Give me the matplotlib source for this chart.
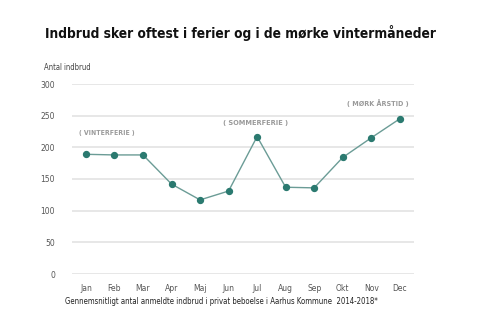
import matplotlib
matplotlib.use("Agg")
import matplotlib.pyplot as plt
import numpy as np

MONTHS = ["Jan", "Feb", "Mar", "Apr", "Maj", "Jun", "Jul", "Aug", "Sep", "Okt", "Nov", "Dec"]
BURGLARIES = [189, 188, 188, 142, 117, 131, 217, 137, 136, 184, 215, 245]
Y_TICKS = [0, 50, 100, 150, 200, 250, 300]
NOTES = ["( VINTERFERIE )", "( SOMMERFERIE )", "( MØRK ÅRSTID )"]
NOTE_POS = [(0.74, 222), (5.96, 238), (10.22, 270)]
NOTE_WIDTH = [56, 66, 62]

TITLE = "Indbrud sker oftest i ferier og i de mørke vintermåneder"
CAPTION = "Gennemsnitligt antal anmeldte indbrud i privat beboelse i Aarhus Kommune  2014-2018*"


def fit_width(fig, txt, width_px, size):
    # scale the font so the text spans the width seen in the reference
    r = fig.canvas.get_renderer()
    w = txt.get_window_extent(r).width
    txt.set_fontsize(size * width_px / w)


fig = plt.figure(figsize=(4.88, 3.26), dpi=100)
ax = fig.add_axes([71.7 / 488, 1 - 274 / 326, (414 - 71.7) / 488, (274 - 84) / 326])

x = np.arange(len(MONTHS))
ax.plot(x, BURGLARIES, color="#6b9c96", linewidth=1.0, zorder=3)
ax.scatter(x, BURGLARIES, s=18, color="#2b7a70", zorder=4)

ax.set_xlim(-0.5, len(MONTHS) - 0.5)
ax.set_ylim(0, 300)
ax.set_yticks(Y_TICKS)
ax.set_xticks(x)
ax.set_xticklabels(MONTHS)
ax.grid(axis="y", color="#e3e3e3", linewidth=1.2, zorder=0)
ax.tick_params(length=0, labelsize=5.5, labelcolor="#555555", pad=7)
ax.tick_params(axis="y", pad=12)
for spine in ax.spines.values():
    spine.set_visible(False)

for text, (xp, yp), w in zip(NOTES, NOTE_POS, NOTE_WIDTH):
    t = ax.text(xp, yp, text, fontsize=6, fontweight="bold", color="#9a9a9a",
                fontstretch="condensed", ha="center", va="center")
    fit_width(fig, t, w, 6)

title = fig.text(45 / 488, 1 - 33 / 326, TITLE, fontsize=14, fontweight="bold",
                 fontstretch="condensed", color="#111111", va="center", ha="left")
fit_width(fig, title, 395, 14)
fig.text(44 / 488, 1 - 68 / 326, "Antal indbrud", fontsize=5.5, color="#444444",
         fontstretch="condensed", va="center", ha="left")
cap = fig.text(65 / 488, 1 - 301 / 326, CAPTION, fontsize=6.5, color="#222222",
               fontstretch="condensed", va="center", ha="left")
fit_width(fig, cap, 315, 6.5)

fig.savefig("out.png", dpi=100, facecolor="white")
